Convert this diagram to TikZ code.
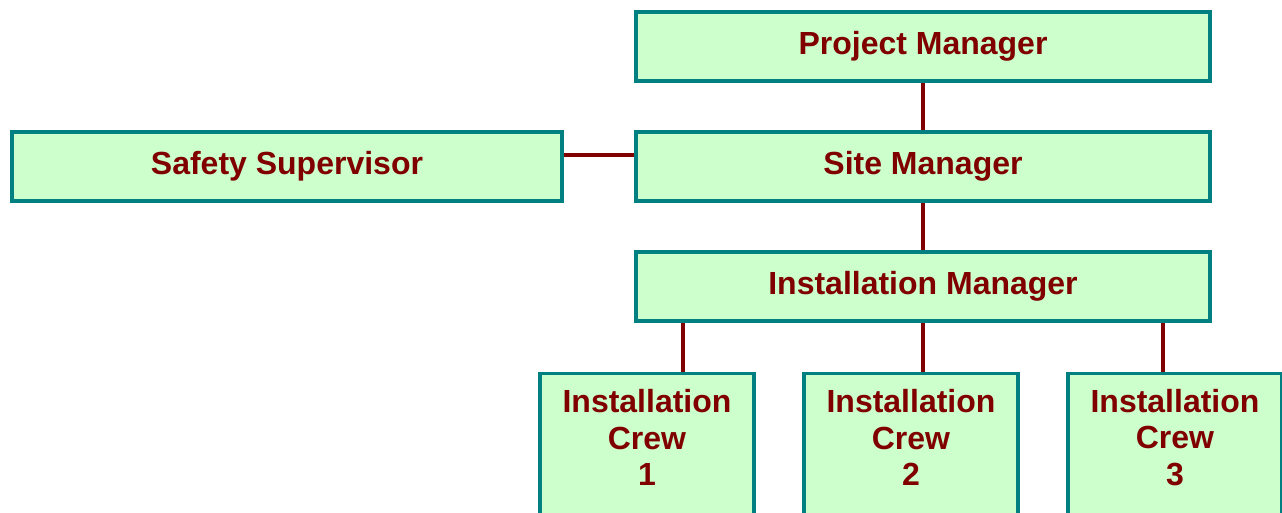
\documentclass[tikz,border=0pt]{standalone}
\usepackage{fontspec}
\setmainfont{Liberation Sans}
\usepackage{xcolor}

\definecolor{boxfill}{HTML}{CCFFCC}
\definecolor{boxline}{HTML}{008080}
\definecolor{darkred}{HTML}{800000}

\tikzset{
  role/.style={draw=boxline, fill=boxfill, line width=2.5pt, text=darkred,
    font=\fontsize{24}{27.6}\selectfont\bfseries, inner sep=0pt,
    minimum height=51.75pt},
  widerole/.style={role, minimum width=430.5pt},
  crewbox/.style={role, minimum width=160.5pt, minimum height=112.5pt, anchor=north},
  crewtext/.style={text=darkred, font=\fontsize{24}{27.6}\selectfont\bfseries, align=center},
  link/.style={draw=darkred, line width=2.5pt}
}

\begin{document}
\begin{tikzpicture}[x=0.75pt, y=-0.75pt]
\useasboundingbox (0,0) rectangle (1282,513);
\clip (0,0) rectangle (1282,513);

% top of the chart
\node[widerole] (project) at (923,46.5) {Project Manager};
\node[widerole] (site) at (923,166.5) {Site Manager};
\node[role, minimum width=412.5pt] (safety) at (287,166.5) {Safety Supervisor};
\node[widerole] (install) at (923,286.5) {Installation Manager};

% crews
\node[crewbox] (crew1) at (647,372) {};
\node[crewtext] (crew1-text) at (647,437.5) {Installation\\Crew\\1};
\node[crewbox] (crew2) at (911,372) {};
\node[crewtext] (crew2-text) at (911,437.5) {Installation\\Crew\\2};
\node[crewbox] (crew3) at (1175,372) {};
\node[crewtext] (crew3-text) at (1175,437.5) {Installation\\Crew\\3};

% lines
\draw[link] (project) -- (site);
\draw[link] (site) -- (install);
\draw[link] ([yshift=8.6pt]safety.east) -- ([yshift=8.6pt]site.west);
\draw[link] ([xshift=-180pt]install.south) -- ([xshift=-180pt]install.south |- crew1.north);
\draw[link] (install.south) -- (install.south |- crew2.north);
\draw[link] ([xshift=180pt]install.south) -- ([xshift=180pt]install.south |- crew3.north);
\end{tikzpicture}
\end{document}
